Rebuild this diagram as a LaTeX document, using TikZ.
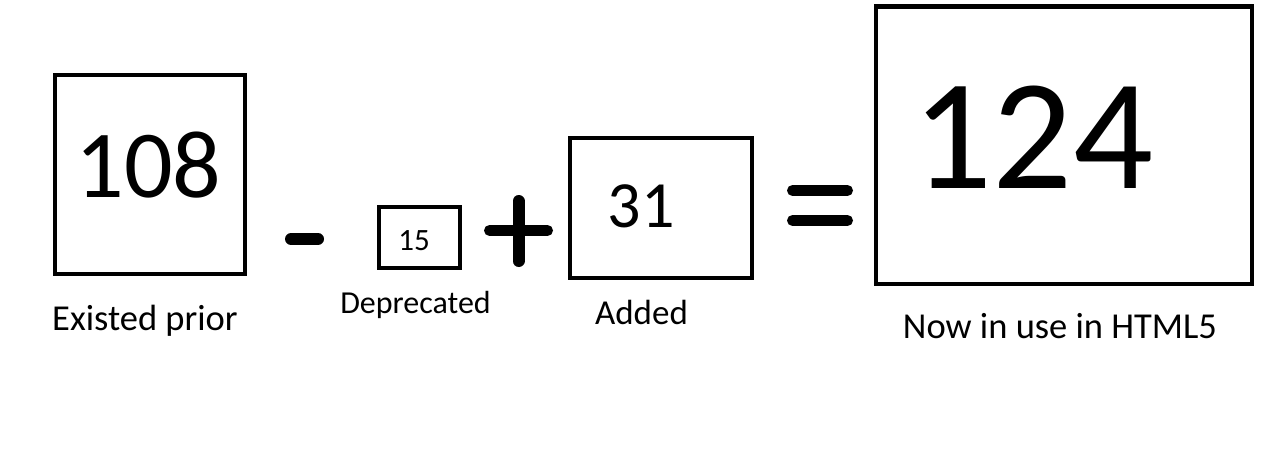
\documentclass[tikz,border=0pt]{standalone}
\usepackage{fontspec}
\setmainfont{Carlito}
\usepackage{tikz}

\begin{document}
\begin{tikzpicture}[x=1pt,y=-1pt,
	box/.style={line width=4.5pt},
	sign/.style={line width=12pt, line cap=round},
	num/.style={anchor=base, inner sep=0pt},
	lab/.style={anchor=base, inner sep=0pt, font=\fontsize{36.5}{40}\selectfont}]
				\useasboundingbox (0,0) rectangle (1285,469);
				% boxes
				\draw[box] (55,75) rectangle (245,274);
				\draw[box] (379,207) rectangle (460,268);
				\draw[box] (570,138) rectangle (752,278);
				\draw[box] (876,6.5) rectangle (1252,284);
				% numbers
				\node[num, font=\fontsize{96}{100}\selectfont] (prior) at (148.5,197) {108};
				\node[num, font=\fontsize{31}{35}\selectfont] (depr) at (414,250) {15};
				\node[num, font=\fontsize{66}{70}\selectfont] (added) at (641,227) {31};
				\node[num, font=\fontsize{158}{170}\selectfont] (now) at (1033,188) {124};
				% labels
				\node[lab] (priorlab) at (145,330) {Existed prior};
				\node[lab, font=\fontsize{32}{35}\selectfont] (deprlab) at (415.5,313) {Deprecated};
				\node[lab, font=\fontsize{35}{40}\selectfont] (addedlab) at (641.5,324) {Added};
				\node[lab] (nowlab) at (1060,338) {Now in use in HTML5};
				% signs
				\draw[sign] (291,239) -- (318,239);
				\draw[sign, line width=11pt] (489.5,230.5) -- (547.5,230.5);
				\draw[sign] (518.5,201) -- (518.5,261);
				\draw[sign, line width=11pt] (792.5,190.5) -- (847.5,190.5);
				\draw[sign, line width=11pt] (792.5,220.5) -- (847.5,220.5);
\end{tikzpicture}
\end{document}
